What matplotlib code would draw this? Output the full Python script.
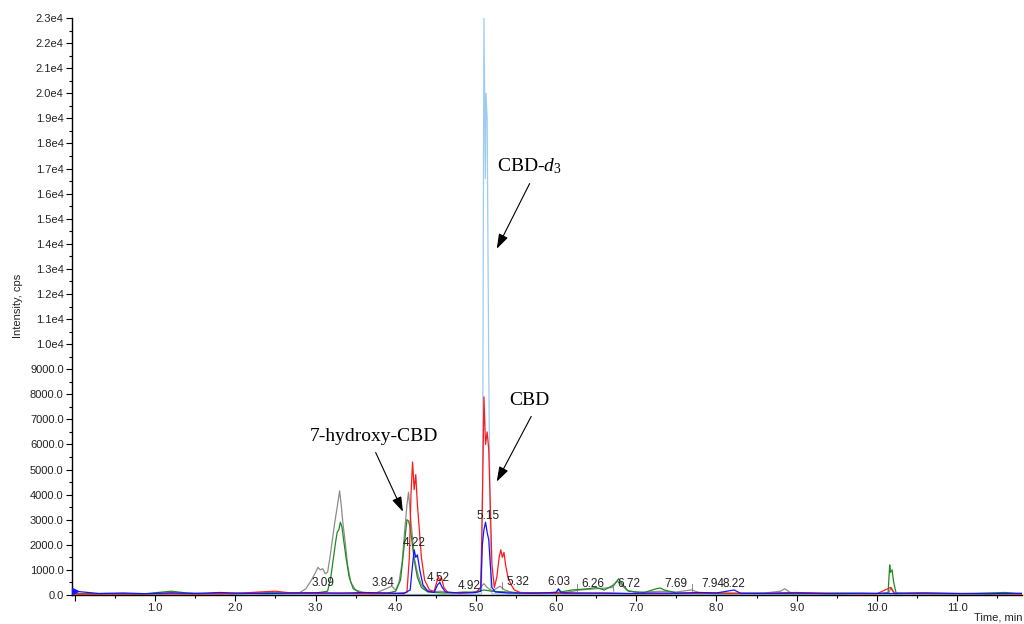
import matplotlib
matplotlib.use("Agg")
import matplotlib.pyplot as plt
from matplotlib.ticker import MultipleLocator, FuncFormatter

plt.rcParams['font.family'] = ['Liberation Sans', 'DejaVu Sans']
plt.rcParams['mathtext.fontset'] = 'custom'
plt.rcParams['mathtext.rm'] = 'Liberation Serif'
plt.rcParams['mathtext.it'] = 'Liberation Serif:italic'

# ---------------- data (time in min, intensity in cps) ----------------
gray_t = [0.0, 0.3, 0.6, 1.0, 1.3, 1.6, 2.0, 2.3, 2.6, 2.8, 2.88, 2.95, 3.0, 3.03, 3.06, 3.09,
          3.12, 3.15, 3.18, 3.21, 3.24, 3.27, 3.30, 3.32, 3.34, 3.37, 3.40, 3.44, 3.50, 3.60,
          3.75, 3.88, 3.95, 4.0, 4.04, 4.08, 4.11, 4.14, 4.16, 4.18, 4.20, 4.23, 4.27, 4.32,
          4.38, 4.45, 4.55, 4.7, 4.85, 4.95, 5.02, 5.07, 5.10, 5.14, 5.2, 5.25, 5.3, 5.36,
          5.45, 5.6, 5.8, 6.0, 6.03, 6.1, 6.3, 6.5, 6.7, 6.76, 6.8, 6.88, 7.0, 7.3, 7.5, 7.69,
          7.8, 8.0, 8.3, 8.6, 8.8, 8.85, 8.92, 9.2, 9.6, 10.0, 10.15, 10.18, 10.22, 10.4, 10.8,
          11.2, 11.5, 11.82]
gray_v = [60, 40, 50, 30, 60, 40, 50, 80, 60, 90, 250, 600, 900, 1100, 1000, 1050,
          850, 900, 1500, 2200, 2900, 3500, 4150, 3600, 2900, 2100, 1200, 500, 200, 100,
          80, 250, 350, 200, 500, 1300, 2500, 3600, 4100, 3300, 2600, 1500, 900, 400,
          200, 120, 150, 80, 120, 100, 150, 350, 450, 300, 150, 250, 350, 200,
          100, 80, 60, 120, 200, 90, 200, 250, 300, 550, 450, 200, 100, 150, 120, 200,
          80, 60, 50, 80, 150, 250, 100, 60, 50, 40, 100, 300, 80, 40, 50,
          40, 50, 40]

green_t = [0.0, 0.4, 0.8, 1.2, 1.4, 1.6, 2.0, 2.4, 2.7, 3.0, 3.15, 3.19, 3.22, 3.25, 3.27,
           3.29, 3.31, 3.33, 3.35, 3.38, 3.42, 3.47, 3.55, 3.7, 3.9, 4.0, 4.06, 4.09, 4.12,
           4.14, 4.16, 4.18, 4.20, 4.23, 4.27, 4.32, 4.4, 4.6, 4.8, 5.0, 5.1, 5.2, 5.5, 5.8,
           6.0, 6.2, 6.4, 6.5, 6.6, 6.72, 6.78, 6.82, 6.9, 7.1, 7.25, 7.3, 7.35, 7.5, 8.0,
           8.5, 9.0, 9.5, 10.0, 10.14, 10.16, 10.17, 10.19, 10.21, 10.24, 10.5, 11.0, 11.6,
           11.82]
green_v = [40, 60, 30, 150, 80, 60, 50, 90, 70, 80, 150, 700, 1400, 2100, 2500,
           2600, 2900, 2700, 2200, 1500, 700, 250, 100, 60, 80, 150, 600, 1500, 2400,
           3000, 2950, 2700, 2200, 1400, 700, 300, 120, 80, 100, 120, 200, 150, 100, 80,
           90, 200, 250, 300, 200, 400, 650, 450, 150, 100, 250, 280, 200, 80, 60,
           70, 50, 80, 60, 80, 1200, 900, 1000, 500, 80, 60, 50, 100,
           40]

red_t = [0.0, 0.5, 1.0, 1.5, 2.0, 2.3, 2.5, 2.7, 3.0, 3.3, 3.6, 4.0, 4.14, 4.17, 4.19,
         4.21, 4.23, 4.25, 4.27, 4.29, 4.32, 4.36, 4.42, 4.48, 4.51, 4.53, 4.55, 4.57, 4.6,
         4.65, 4.8, 5.0, 5.06, 5.08, 5.10, 5.12, 5.14, 5.16, 5.18, 5.20, 5.23, 5.26, 5.29,
         5.31, 5.33, 5.35, 5.37, 5.40, 5.44, 5.48, 5.55, 5.8, 6.2, 6.6, 7.0, 7.5, 8.0, 8.5,
         9.0, 9.5, 10.0, 10.17, 10.19, 10.22, 10.5, 11.0, 11.5, 11.82]
red_v = [30, 40, 50, 40, 60, 120, 150, 80, 60, 80, 50, 60, 100, 1500, 4000,
         5300, 4200, 4800, 3600, 2800, 1500, 600, 200, 150, 500, 750, 550, 700, 300,
         100, 80, 100, 300, 3500, 7900, 6000, 6500, 5800, 3500, 1200, 300, 700, 1500,
         1800, 1500, 1700, 1200, 700, 400, 200, 100, 80, 60, 80, 50, 60, 80, 60,
         100, 60, 50, 300, 200, 50, 80, 60, 50, 40]

blue_t = [0.0, 0.3, 0.6, 0.9, 1.2, 1.5, 1.8, 2.1, 2.4, 2.7, 3.0, 3.3, 3.6, 3.9, 4.1, 4.18,
          4.21, 4.23, 4.25, 4.27, 4.30, 4.34, 4.40, 4.48, 4.52, 4.55, 4.58, 4.62, 4.8, 5.0,
          5.06, 5.08, 5.10, 5.12, 5.14, 5.16, 5.18, 5.20, 5.24, 5.4, 5.7, 6.0, 6.03, 6.06,
          6.3, 6.6, 6.9, 7.2, 7.5, 7.8, 8.0, 8.22, 8.3, 8.6, 9.0, 9.4, 9.8, 10.2, 10.6, 11.0,
          11.4, 11.82]
blue_v = [150, 60, 80, 50, 90, 60, 100, 70, 60, 80, 90, 70, 100, 80, 60, 200,
          1200, 1800, 1500, 1600, 1000, 400, 150, 100, 400, 500, 300, 120, 80, 100,
          150, 2000, 2600, 2900, 2500, 2200, 1200, 300, 120, 80, 70, 100, 250, 90,
          80, 70, 60, 80, 70, 100, 80, 200, 70, 60, 80, 50, 70, 60, 80, 60,
          50, 70]

d3_t = [0.0, 1.0, 2.0, 3.0, 4.0, 5.0, 5.07, 5.085, 5.10, 5.118, 5.125, 5.14, 5.16, 5.185,
        5.2, 5.3, 6.0, 8.0, 10.0, 11.82]
d3_v = [20, 30, 20, 30, 20, 30, 50, 6000, 23000, 16600, 20000, 19000, 9000, 300,
        50, 40, 30, 20, 30, 20]

peak_labels = ["3.09", "3.84", "4.22", "4.52", "4.92", "5.15", "5.32", "6.03",
               "6.26", "6.72", "7.69", "7.94", "8.22"]

# ---------------- figure ----------------
fig = plt.figure(figsize=(10.24, 6.24), dpi=100)
W, H = 1024.0, 624.0
ax = fig.add_axes([72 / W, 1 - 595 / H, 950 / W, 577 / H])

ax.plot(d3_t, d3_v, color='#9ecbf2', lw=0.9, zorder=2)
ax.plot(gray_t, gray_v, color='#8c8c8c', lw=0.9, zorder=3)
ax.plot(green_t, green_v, color='#1f8a1f', lw=0.9, zorder=4)
ax.plot(red_t, red_v, color='#ff1a1a', lw=0.9, zorder=5)
ax.plot(blue_t, blue_v, color='#1414ff', lw=0.9, zorder=6)
ax.plot(blue_t[:1], blue_v[:1], marker='>', color='#1414ff', ms=4, zorder=7, clip_on=False)

ax.set_xlim(-0.037, 11.81)
ax.set_ylim(0, 23000)

for s in ['top', 'right']:
    ax.spines[s].set_visible(False)
for s in ['left', 'bottom']:
    ax.spines[s].set_linewidth(1.0)

ax.xaxis.set_major_locator(MultipleLocator(1.0))
ax.xaxis.set_minor_locator(MultipleLocator(0.5))
ax.yaxis.set_major_locator(MultipleLocator(1000))
ax.yaxis.set_minor_locator(MultipleLocator(500))


def xfmt(v, pos):
    return "" if abs(v) < 1e-9 else f"{v:.1f}"


def yfmt(v, pos):
    if v < 9500:
        return f"{v:.1f}"
    return f"{v / 1e4:.1f}e4"


ax.xaxis.set_major_formatter(FuncFormatter(xfmt))
ax.yaxis.set_major_formatter(FuncFormatter(yfmt))
ax.tick_params(axis='both', which='major', length=4, width=0.8, labelsize=8,
               labelcolor='#222222', pad=2)
ax.tick_params(axis='both', which='minor', length=2.5, width=0.8)

fig.text(18 / W, 1 - 306 / H, "Intensity, cps", rotation=90, ha='center', va='center',
         fontsize=8, color='#222222')
fig.text(998 / W, 1 - 617 / H, "Time, min", ha='center', va='center', fontsize=8,
         color='#222222')

# peak retention-time labels (x in min, y in cps where the text sits)
label_pos = [(3.09, 480), (3.84, 480), (4.23, 2080), (4.53, 680), (4.92, 360),
             (5.15, 3160), (5.52, 520), (6.03, 520), (6.46, 440), (6.91, 440),
             (7.49, 440), (7.95, 440), (8.22, 440)]
for lab, (x, y) in zip(peak_labels, label_pos):
    ax.text(x, y, lab, ha='center', va='center', fontsize=8.5, color='#222222', zorder=8)

# leader lines for displaced labels
for lab, (x, y) in zip(peak_labels, label_pos):
    t = float(lab)
    if abs(x - t) > 0.1:
        if x > t:
            ax.plot([x - 0.2, t], [y, y - 300], color='#777777', lw=0.6, zorder=7)
        else:
            ax.plot([x + 0.2, t], [y, y - 300], color='#777777', lw=0.6, zorder=7)

# compound annotations
serif = ['Liberation Serif', 'DejaVu Serif']
ax.text(5.67, 17080, "CBD-$\\mathit{d}_{3}$", ha='center', va='center', fontsize=14,
        family=serif, zorder=9)
ax.text(5.67, 7760, "CBD", ha='center', va='center', fontsize=14, family=serif, zorder=9)
ax.text(3.73, 6320, "7-hydroxy-CBD", ha='center', va='center', fontsize=14, family=serif,
        zorder=9)

arrow = dict(arrowstyle='-|>,head_length=0.9,head_width=0.3', color='black', lw=0.8,
             shrinkA=0, shrinkB=0)
ax.annotate("", xy=(5.26, 13800), xytext=(5.67, 16400), arrowprops=arrow, zorder=9)
ax.annotate("", xy=(5.26, 4520), xytext=(5.69, 7120), arrowprops=arrow, zorder=9)
ax.annotate("", xy=(4.09, 3320), xytext=(3.75, 5680), arrowprops=arrow, zorder=9)

fig.savefig("out.png", dpi=100)
